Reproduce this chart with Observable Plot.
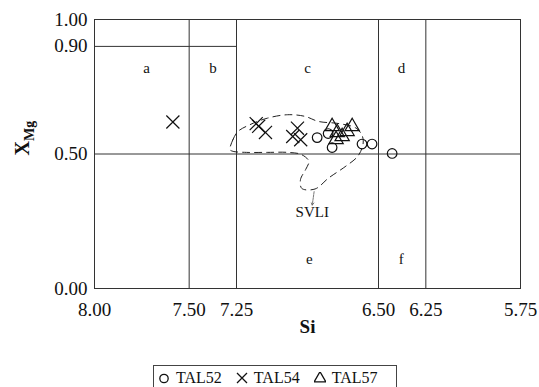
<!DOCTYPE html>
<html>
<head>
<meta charset="utf-8">
<script src="https://cdn.jsdelivr.net/npm/d3@7"></script>
<script src="https://cdn.jsdelivr.net/npm/@observablehq/plot@0.6"></script>
<style>
  body { margin: 0; background: #fff; font-family: "Liberation Serif", "DejaVu Serif", serif; }
  #legend { margin-left: 153px; margin-top: 15px; width: 244px; height: 24px; border: 1px solid #444; border-bottom: none;
    display: flex; align-items: center; font-size: 16px; color: #111; box-sizing: border-box; padding-left: 4px; white-space: nowrap; }
  #legend span.item { display: inline-flex; align-items: center; margin-right: 14px; }
  #legend svg { margin-right: 6px; }
</style>
</head>
<body>
<div id="chart"></div>
<div id="legend"></div>
<script>
// ---- data ----
const seriesNames = ["TAL52", "TAL54", "TAL57"];
const tal52Si = [6.824, 6.766, 6.745, 6.587, 6.534, 6.428];
const tal52Mg = [0.561, 0.576, 0.524, 0.537, 0.537, 0.502];
const tal54Si = [7.586, 7.146, 7.133, 7.097, 6.928, 6.953, 6.911];
const tal54Mg = [0.619, 0.613, 0.603, 0.580, 0.596, 0.565, 0.553];
const tal57Si = [6.745, 6.718, 6.692, 6.666, 6.639, 6.724];
const tal57Mg = [0.602, 0.580, 0.565, 0.584, 0.602, 0.554];

const xTicks = [8.00, 7.50, 7.25, 6.50, 6.25, 5.75];
const yTicks = [0.00, 0.50, 0.90, 1.00];
const siBounds = [7.50, 7.25, 6.50, 6.25];
const mgBoundary = 0.50;
const upperBoundary = {value: 0.90, from: 8.00, to: 7.25};

const fieldLabels = ["a", "b", "c", "d", "e", "f"];
const fieldSi = [7.725, 7.374, 6.875, 6.379, 6.865, 6.38];
const fieldMg = [0.819, 0.819, 0.819, 0.819, 0.11, 0.11];

// SVLI outline (closed dashed curve)
const svliSi = [7.284, 7.269, 7.242, 7.179, 7.088, 6.980, 6.889, 6.817, 6.708, 6.618, 6.585, 6.582, 6.609, 6.672, 6.763, 6.835, 6.905, 6.912, 6.885, 6.868, 6.907, 6.980, 7.088, 7.197, 7.269];
const svliMg = [0.516, 0.553, 0.584, 0.609, 0.633, 0.646, 0.640, 0.621, 0.613, 0.596, 0.566, 0.535, 0.492, 0.455, 0.411, 0.370, 0.372, 0.405, 0.442, 0.473, 0.498, 0.506, 0.506, 0.506, 0.510];
const svliLabel = {text: "SVLI", si: 6.85, mg: 0.283};
const svliArrow = {si1: 6.84, mg1: 0.36, si2: 6.85, mg2: 0.31};

// ---- build tables ----
const pts = [
  ...tal52Si.map((s, i) => ({si: s, mg: tal52Mg[i], series: "TAL52"})),
  ...tal54Si.map((s, i) => ({si: s, mg: tal54Mg[i], series: "TAL54"})),
  ...tal57Si.map((s, i) => ({si: s, mg: tal57Mg[i], series: "TAL57"}))
];
const outline = svliSi.map((s, i) => ({si: s, mg: svliMg[i]}));
const fields = fieldLabels.map((t, i) => ({t, si: fieldSi[i], mg: fieldMg[i]}));

const serif = "'Liberation Serif', 'DejaVu Serif', serif";
const lineColor = "#333";

const chart = Plot.plot({
  width: 539,
  height: 350,
  marginLeft: 94,
  marginRight: 19,
  marginTop: 19,
  marginBottom: 62,
  style: {fontFamily: serif, fontSize: "19px", color: "#111", background: "#fff"},
  x: {domain: [8.00, 5.75], ticks: xTicks, tickFormat: d3.format(".2f"), tickSize: 0, tickPadding: 14, label: null},
  y: {domain: [0, 1], ticks: yTicks, tickFormat: d3.format(".2f"), tickSize: 0, tickPadding: 7, label: null},
  marks: [
    Plot.ruleX(siBounds, {stroke: lineColor, strokeWidth: 1}),
    Plot.ruleY([mgBoundary], {stroke: lineColor, strokeWidth: 1}),
    Plot.ruleY([upperBoundary], {y: "value", x1: "from", x2: "to", stroke: lineColor, strokeWidth: 1}),
    Plot.frame({stroke: lineColor, strokeWidth: 1}),
    Plot.line(outline, {x: "si", y: "mg", curve: "catmull-rom-closed", stroke: "#222", strokeWidth: 1, strokeDasharray: "7,5"}),
    Plot.arrow([svliArrow], {x1: "si1", y1: "mg1", x2: "si2", y2: "mg2", stroke: "#555", strokeWidth: 0.8, headLength: 5, strokeDasharray: "2,1"}),
    Plot.text([svliLabel], {x: "si", y: "mg", text: "text", fontSize: 15, fontFamily: serif, fill: "#111"}),
    Plot.text(fields, {x: "si", y: "mg", text: "t", fontSize: 15, fontFamily: serif, fill: "#111"}),
    Plot.dot(pts.filter(d => d.series === "TAL52"), {x: "si", y: "mg", symbol: "circle", r: 4.8, stroke: "#111", strokeWidth: 1.2, fill: "none"}),
    Plot.dot(pts.filter(d => d.series === "TAL54"), {x: "si", y: "mg", symbol: "times", r: 6, stroke: "#111", strokeWidth: 1.2}),
    Plot.dot(pts.filter(d => d.series === "TAL57"), {x: "si", y: "mg", symbol: "triangle", r: 5.3, stroke: "#111", strokeWidth: 1.2, fill: "none"}),
    Plot.text(["Si"], {frameAnchor: "bottom", dy: 44, fontWeight: "bold", fontSize: 19, fontFamily: serif, fill: "#111"})
  ]
});
document.getElementById("chart").appendChild(chart);

// y-axis label X_Mg with subscript
const svg = d3.select(chart);
const yMid = chart.scale("y").apply(mgBoundary);
const lab = svg.append("text")
  .attr("transform", `translate(29,${yMid + 2}) rotate(-90)`)
  .attr("text-anchor", "start")
  .attr("font-family", serif)
  .attr("font-weight", "bold")
  .attr("fill", "#111");
lab.append("tspan").attr("font-size", 20).text("X");
lab.append("tspan").attr("font-size", 14).attr("dy", 5).text("Mg");

// legend
const legend = d3.select("#legend");
seriesNames.forEach(name => {
  const item = legend.append("span").attr("class", "item");
  const s = item.append("svg").attr("width", 12).attr("height", 12);
  const path = name === "TAL54"
    ? "M1,1L11,11M11,1L1,11"
    : name === "TAL52"
      ? d3.symbol(d3.symbolCircle, 55)()
      : d3.symbol(d3.symbolTriangle, 60)();
  const g = s.append("g").attr("transform", name === "TAL54" ? "" : "translate(6,6.5)");
  g.append("path").attr("d", path).attr("fill", "none").attr("stroke", "#111").attr("stroke-width", 1.3);
  item.append("span").text(name);
});
</script>
</body>
</html>
